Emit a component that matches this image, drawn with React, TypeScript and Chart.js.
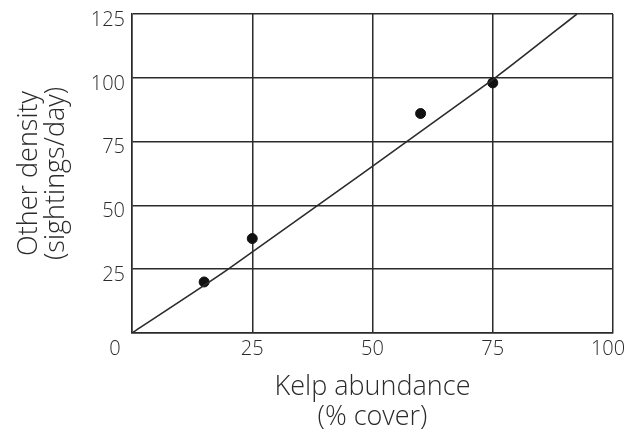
import React, { useEffect, useRef } from "react";
import { Chart, registerables } from "chart.js";

Chart.register(...registerables);

// Observations
const kelpCover = [15, 25, 60, 75];
const otterDensity = [20, 37, 86, 98];

// Hand-drawn trend line vertices
const trendKelp = [0, 20, 75.5, 92.5];
const trendDensity = [0, 25, 100, 125];

// Axes
const xTickValues = [0, 25, 50, 75, 100];
const yTickValues = [0, 25, 50, 75, 100, 125];
const xTitle = ["Kelp abundance", "(% cover)"];
const yTitle = ["Other density", "(sightings/day)"];
const originLabel = "0";

const INK = "#2b2b2b";
const FONT = "'Open Sans', 'DejaVu Sans', sans-serif";

const originPlugin = {
  id: "originLabel",
  afterDraw(chart: any) {
    const { ctx, scales } = chart;
    const x = scales.x.getPixelForValue(xTickValues[0]) - 17;
    const y = scales.y.getPixelForValue(yTickValues[0]) + 16;
    ctx.save();
    ctx.fillStyle = INK;
    ctx.font = `300 20px ${FONT}`;
    ctx.textAlign = "center";
    ctx.textBaseline = "middle";
    ctx.fillText(originLabel, x, y);
    ctx.restore();
  },
};

export default function App() {
  const ref = useRef<HTMLCanvasElement | null>(null);

  useEffect(() => {
    if (!ref.current) return;
    const lastX = xTickValues[xTickValues.length - 1];
    const chart = new Chart(ref.current, {
      type: "scatter",
      data: {
        datasets: [
          {
            type: "line",
            data: trendKelp.map((x, i) => ({ x, y: trendDensity[i] })),
            borderColor: INK,
            borderWidth: 1.6,
            pointRadius: 0,
            fill: false,
            tension: 0.2,
          } as any,
          {
            type: "scatter",
            data: kelpCover.map((x, i) => ({ x, y: otterDensity[i] })),
            backgroundColor: "#111",
            borderColor: "#111",
            pointRadius: 5,
            pointHoverRadius: 5,
          },
        ],
      },
      options: {
        animation: false,
        responsive: false,
        events: [],
        layout: { padding: { top: 14, right: 12, bottom: 0, left: 0 } },
        plugins: { legend: { display: false }, tooltip: { enabled: false } },
        scales: {
          x: {
            type: "linear",
            min: xTickValues[0],
            max: lastX,
            afterBuildTicks: (s: any) => {
              s.ticks = xTickValues.map((v) => ({ value: v }));
            },
            ticks: {
              color: INK,
              font: { family: FONT, size: 20, weight: "300" as any },
              padding: 4,
              maxRotation: 0,
              callback: (v: any) =>
                v === 0 ? "" : v === lastX ? String(v) + "\u2002" : String(v),
            },
            grid: { color: INK, lineWidth: 1.5, drawTicks: false },
            border: { color: INK, width: 1.5 },
            title: {
              display: true,
              text: xTitle,
              color: INK,
              font: { family: FONT, size: 27, weight: "300" as any, lineHeight: 30 / 27 },
              padding: { top: 0, bottom: 3 },
            },
            afterFit: (s: any) => {
              s.height = 102;
              s.paddingLeft = 0;
              s.paddingRight = 0;
            },
          },
          y: {
            type: "linear",
            min: yTickValues[0],
            max: yTickValues[yTickValues.length - 1],
            afterBuildTicks: (s: any) => {
              s.ticks = yTickValues.map((v) => ({ value: v }));
            },
            ticks: {
              color: INK,
              font: { family: FONT, size: 20, weight: "300" as any },
              padding: 7,
              labelOffset: 6,
              callback: (v: any) => (v === 0 ? "" : String(v)),
            },
            grid: { color: INK, lineWidth: 1.5, drawTicks: false },
            border: { color: INK, width: 1.5 },
            title: {
              display: true,
              text: yTitle,
              color: INK,
              font: { family: FONT, size: 27, weight: "300" as any, lineHeight: 1 },
              padding: { top: 16, bottom: 0 },
            },
            afterFit: (s: any) => {
              s.width = 132;
              s.paddingTop = 0;
              s.paddingBottom = 0;
            },
          },
        },
      },
      plugins: [originPlugin],
    });
    return () => chart.destroy();
  }, []);

  return (
    <div style={{ position: "fixed", left: 0, top: 0, width: 625, height: 435, background: "#fff" }}>
      <canvas ref={ref} width={625} height={435} />
    </div>
  );
}
